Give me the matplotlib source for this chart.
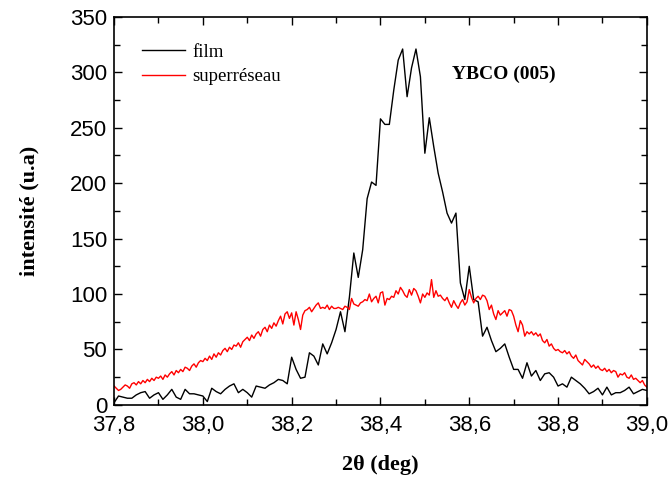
import numpy as np
import matplotlib
matplotlib.use("Agg")
import matplotlib.pyplot as plt
from matplotlib.ticker import MultipleLocator, FuncFormatter

# film : pas de 0.01 deg, de 37.80 a 39.00
film_start, film_step = 37.80, 0.01
film = [2, 8, 7, 6, 6, 9, 11, 12, 6, 9,
        11, 5, 9, 14, 7, 5, 14, 10, 10, 9,
        8, 3, 15, 12, 10, 14, 17, 19, 11, 14,
        11, 7, 17, 16, 15, 18, 20, 23, 22, 19,
        43, 32, 24, 25, 47, 44, 36, 55, 46, 56,
        68, 84, 66, 97, 137, 115, 140, 186, 201, 198,
        258, 253, 253, 284, 311, 321, 278, 304, 321, 296,
        227, 259, 233, 209, 192, 173, 164, 173, 110, 95,
        125, 95, 93, 62, 70, 58, 48, 51, 55, 43,
        32, 32, 24, 38, 26, 31, 22, 28, 29, 25,
        17, 19, 16, 25, 22, 19, 15, 10, 12, 15,
        9, 16, 9, 11, 11, 13, 16, 10, 12, 14,
        13]

# superreseau : pas de 0.005 deg
sr_start, sr_step = 37.80, 0.005
superreseau = [17, 15, 13, 14, 16, 18, 17, 15, 19, 20, 18, 21, 19, 22, 20, 23, 21, 24, 22, 25,
               24, 26, 23, 27, 25, 28, 30, 27, 31, 29, 32, 30, 34, 33, 31, 35, 37, 34, 38, 40,
               39, 42, 40, 44, 41, 46, 43, 47, 45, 49, 51, 48, 52, 50, 54, 53, 56, 52, 57, 59,
               61, 58, 63, 60, 64, 66, 62, 68, 70, 66, 72, 69, 74, 71, 76, 80, 73, 82, 84, 78,
               83, 72, 84, 77, 68, 81, 85, 86, 88, 84, 87, 90, 92, 87, 88, 87, 90, 86, 89, 87,
               87, 88, 87, 86, 89, 88, 86, 96, 91, 90, 89, 92, 93, 95, 94, 100, 93, 96, 98, 92,
               101, 102, 90, 96, 95, 98, 97, 103, 100, 106, 103, 99, 97, 104, 99, 105, 103, 98, 92, 100,
               97, 101, 99, 113, 97, 103, 98, 99, 96, 94, 97, 92, 88, 94, 90, 87, 92, 95, 90, 93,
               104, 97, 92, 96, 98, 95, 99, 98, 94, 86, 90, 82, 77, 85, 81, 83, 85, 80, 86, 85,
               80, 72, 66, 76, 72, 62, 66, 64, 66, 63, 65, 62, 64, 58, 56, 59, 53, 55, 51, 49,
               50, 48, 47, 49, 46, 48, 44, 42, 45, 40, 38, 36, 41, 39, 37, 34, 36, 33, 35, 32,
               31, 33, 30, 32, 29, 31, 30, 25, 28, 27, 29, 25, 24, 27, 23, 24, 22, 20, 22, 18,
               16]

x_film = film_start + film_step * np.arange(len(film))
x_sr = sr_start + sr_step * np.arange(len(superreseau))

serif = "Liberation Serif"
sans = "Liberation Sans"

fig = plt.figure(figsize=(6.71, 4.82), dpi=100)
ax = fig.add_axes([0.170, 0.160, 0.794, 0.805])

ax.plot(x_film, film, color="black", lw=1.0, label="film")
ax.plot(x_sr, superreseau, color="red", lw=1.0, label="superréseau")

ax.set_xlim(37.8, 39.0)
ax.set_ylim(0, 350)
ax.xaxis.set_major_locator(MultipleLocator(0.2))
ax.xaxis.set_minor_locator(MultipleLocator(0.1))
ax.yaxis.set_major_locator(MultipleLocator(50))
ax.yaxis.set_minor_locator(MultipleLocator(25))
ax.xaxis.set_major_formatter(FuncFormatter(lambda v, p: f"{v:.1f}".replace(".", ",")))

ax.tick_params(which="both", direction="in", top=True, right=True, width=1.0)
ax.tick_params(which="major", length=6, labelsize=16)
ax.tick_params(which="minor", length=4)
ax.tick_params(axis="x", which="major", pad=7)
ax.tick_params(axis="y", which="major", pad=5)
for lab in ax.get_xticklabels() + ax.get_yticklabels():
    lab.set_fontfamily(sans)
for s in ax.spines.values():
    s.set_linewidth(1.2)

ax.set_xlabel("2θ (deg)", fontfamily=serif, fontweight="bold", fontsize=16, labelpad=14)
ax.set_ylabel("intensité (u.a)", fontfamily=serif, fontweight="bold", fontsize=16, labelpad=22)

ax.legend(loc="upper left", bbox_to_anchor=(0.02, 0.975), frameon=False,
          prop={"family": serif, "size": 13.5}, handlelength=2.3,
          handletextpad=0.4, labelspacing=0.4)
ax.text(0.635, 0.84, "YBCO (005)", transform=ax.transAxes,
        fontfamily=serif, fontweight="bold", fontsize=14)

fig.savefig("out.png", dpi=100)
